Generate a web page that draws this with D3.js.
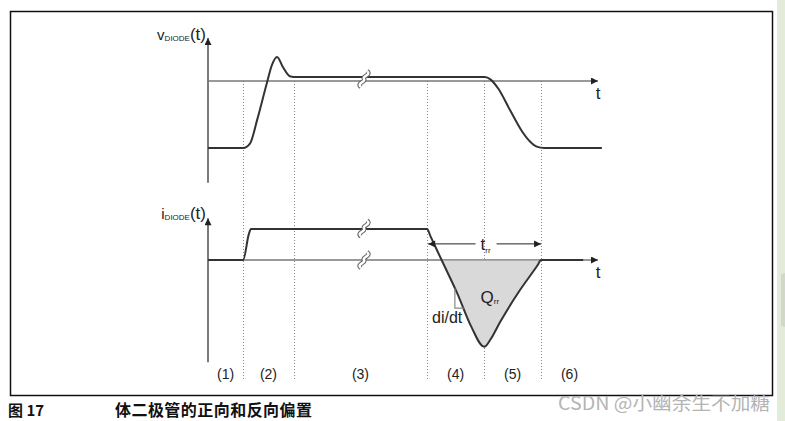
<!DOCTYPE html>
<html>
<head>
<meta charset="utf-8">
<script src="https://cdn.jsdelivr.net/npm/d3@7"></script>
<style>
  body { margin: 0; background: #fff; }
  svg { display: block; font-family: "Liberation Sans", Arial, sans-serif; }
</style>
</head>
<body>
<div id="chart"></div>
<script>
// time axis is in arbitrary units 0..100
const phaseBounds = [9, 22, 56.2, 70.8, 85.4];
const phaseLabels = ["(1)", "(2)", "(3)", "(4)", "(5)", "(6)"];

// diode voltage waveform [t, v]   (v = -1 is the forward level)
const vTimes  = [0, 9, 10.8, 12.6, 15.1, 16.4, 17.7, 19.2, 21, 22, 71, 72.5, 74.5, 77.4, 80.5, 82.5, 84.3, 86.2, 101];
const vValues = [-1, -1, -0.93, -0.58, -0.03, 0.24, 0.36, 0.21, 0.07, 0.06, 0.06, 0.02, -0.12, -0.43, -0.75, -0.9, -0.98, -1, -1];

// diode current waveform [t, i]   (i = 1 is the forward current)
const iTimes  = [0, 9, 10.5, 11, 56.2, 57, 59.9, 64, 67.5, 70.8, 72.5, 74.9, 80, 84.5, 85.4, 96.2];
const iValues = [0, 0, 0.85, 1, 1, 0.78, 0, -1.1, -2.15, -2.8, -2.55, -2.0, -0.97, -0.17, 0, 0];

const breakT = 40;
const trrLevel = 0.52;

const width = 785, height = 421;
const svg = d3.select("#chart").append("svg").attr("width", width).attr("height", height);

const x = d3.scaleLinear().domain([0, 100]).range([208, 598]);
const yV = d3.scaleLinear().domain([-1, 0]).range([148, 81]);
const yI = d3.scaleLinear().domain([0, 1]).range([260, 229]);

// page decorations
svg.append("rect").attr("x", 777).attr("y", 0).attr("width", 8).attr("height", height).attr("fill", "#e3ebd9");
svg.append("rect").attr("x", 781).attr("y", 273).attr("width", 6).attr("height", 54).attr("rx", 3).attr("fill", "#d2d8cb");
svg.append("rect").attr("x", 10.5).attr("y", 11.5).attr("width", 762).attr("height", 384)
  .attr("fill", "none").attr("stroke", "#111").attr("stroke-width", 1.5);

const defs = svg.append("defs");
defs.append("marker").attr("id", "arr").attr("viewBox", "0 0 10 10").attr("refX", 10).attr("refY", 5)
  .attr("markerWidth", 9).attr("markerHeight", 7).attr("markerUnits", "userSpaceOnUse").attr("orient", "auto-start-reverse")
  .append("path").attr("d", "M0,0L10,5L0,10Z").attr("fill", "#222");

// dotted phase boundaries
svg.append("g").selectAll("line").data(phaseBounds).join("line")
  .attr("x1", d => Math.round(x(d)) + 0.5).attr("x2", d => Math.round(x(d)) + 0.5)
  .attr("y1", yV(0)).attr("y2", 379)
  .attr("stroke", "#888").attr("stroke-width", 1).attr("stroke-dasharray", "1,2");

// axes
function axes(y, top, bottom) {
  svg.append("line").attr("x1", x(0)).attr("x2", x(0)).attr("y1", y(bottom)).attr("y2", y(top))
    .attr("stroke", "#222").attr("stroke-width", 1.2).attr("marker-end", "url(#arr)");
  svg.append("line").attr("x1", x(0)).attr("x2", x(100)).attr("y1", y(0)).attr("y2", y(0))
    .attr("stroke", "#777").attr("stroke-width", 1.3).attr("marker-end", "url(#arr)");
  svg.append("text").attr("x", x(100)).attr("y", y(0) + 18).attr("font-size", 17).attr("fill", "#222")
    .attr("text-anchor", "middle").text("t");
}
axes(yV, 0.64, -1.52);
axes(yI, 1.35, -3.3);

// shaded reverse recovery charge
const iData = iTimes.map((t, k) => [t, iValues[k]]);
const qData = iData.filter(d => d[0] >= 59.9 && d[0] <= 85.4);
svg.append("path").datum(qData)
  .attr("d", d3.area().x(d => x(d[0])).y0(yI(0)).y1(d => yI(d[1])).curve(d3.curveMonotoneX))
  .attr("fill", "#d9d9d9");
svg.append("line").attr("x1", x(59.9)).attr("x2", x(85.4)).attr("y1", yI(0)).attr("y2", yI(0))
  .attr("stroke", "#999").attr("stroke-width", 1.5);

// waveforms
const vData = vTimes.map((t, k) => [t, vValues[k]]);
svg.append("path").datum(vData)
  .attr("d", d3.line().x(d => x(d[0])).y(d => yV(d[1])).curve(d3.curveMonotoneX))
  .attr("fill", "none").attr("stroke", "#333").attr("stroke-width", 2);
svg.append("path").datum(iData)
  .attr("d", d3.line().x(d => x(d[0])).y(d => yI(d[1])).curve(d3.curveMonotoneX))
  .attr("fill", "none").attr("stroke", "#333").attr("stroke-width", 2);

// break markers
function brk(cx, cy) {
  const p = `M${cx - 3},${cy + 8} C${cx - 8},${cy + 4} ${cx + 2},${cy + 3} ${cx},${cy} C${cx - 2},${cy - 3} ${cx + 8},${cy - 4} ${cx + 3},${cy - 8}`;
  svg.append("path").attr("d", p).attr("fill", "none").attr("stroke", "#666").attr("stroke-width", 4.5);
  svg.append("path").attr("d", p).attr("fill", "none").attr("stroke", "#fff").attr("stroke-width", 2.4);
}
brk(x(breakT), yV(0.03));
brk(x(breakT), yI(1) - 0.5);
brk(x(breakT), yI(0));

// trr arrow
svg.append("line").attr("x1", x(68.6)).attr("x2", x(56.2) + 1).attr("y1", yI(trrLevel)).attr("y2", yI(trrLevel))
  .attr("stroke", "#222").attr("stroke-width", 1).attr("marker-end", "url(#arr)");
svg.append("line").attr("x1", x(74)).attr("x2", x(85.4)).attr("y1", yI(trrLevel)).attr("y2", yI(trrLevel))
  .attr("stroke", "#222").attr("stroke-width", 1).attr("marker-end", "url(#arr)");
const trr = svg.append("text").attr("x", x(69.9)).attr("y", yI(trrLevel) + 6).attr("font-size", 17).attr("fill", "#222");
trr.append("tspan").text("t");
trr.append("tspan").attr("font-size", 8).attr("dy", 3).text("rr");

// Qrr label
const q = svg.append("text").attr("x", x(69.9)).attr("y", 303).attr("font-size", 17).attr("fill", "#222");
q.append("tspan").text("Q");
q.append("tspan").attr("font-size", 8).attr("dy", 1).text("rr");

// di/dt slope marker
svg.append("path").attr("d", `M${x(63.3)},${yI(-0.92)}V${yI(-1.55)}H${x(65.6)}`)
  .attr("fill", "none").attr("stroke", "#888").attr("stroke-width", 1.2);
svg.append("text").attr("x", 432).attr("y", 323).attr("font-size", 16).attr("fill", "#222").text("di/dt");

// axis titles
function title(letter, yBase) {
  const t = svg.append("text").attr("x", 206).attr("y", yBase).attr("text-anchor", "end").attr("fill", "#222");
  t.append("tspan").attr("font-size", 15).text(letter);
  t.append("tspan").attr("font-size", 8).attr("dy", 1).text("DIODE");
  t.append("tspan").attr("font-size", 17).attr("dy", -1).text("(t)");
}
title("v", 40);
title("i", 219);

// phase labels
const edges = [0, ...phaseBounds, 100];
const mids = phaseLabels.map((d, k) => (edges[k] + edges[k + 1]) / 2);
svg.append("g").selectAll("text").data(phaseLabels).join("text")
  .attr("x", (d, k) => x(mids[k])).attr("y", 379).attr("text-anchor", "middle")
  .attr("font-size", 14).attr("fill", "#222").text(d => d);

// caption
svg.append("text").attr("x", 8).attr("y", 416).attr("font-family", "'Noto Sans CJK SC', sans-serif")
  .attr("font-weight", "bold").attr("font-size", 15).attr("fill", "#111").text("图 17");
svg.append("text").attr("x", 115).attr("y", 416).attr("font-family", "'Noto Sans CJK SC', sans-serif")
  .attr("font-weight", "bold").attr("font-size", 16).attr("fill", "#111")
  .attr("textLength", 197).text("体二极管的正向和反向偏置");

// watermark
svg.append("text").attr("x", 558).attr("y", 410).attr("font-family", "'Noto Sans CJK SC', sans-serif")
  .attr("font-size", 18).attr("fill", "#b4b4b4").attr("textLength", 212).attr("lengthAdjust", "spacingAndGlyphs")
  .text("CSDN @小幽余生不加糖");
</script>
</body>
</html>
